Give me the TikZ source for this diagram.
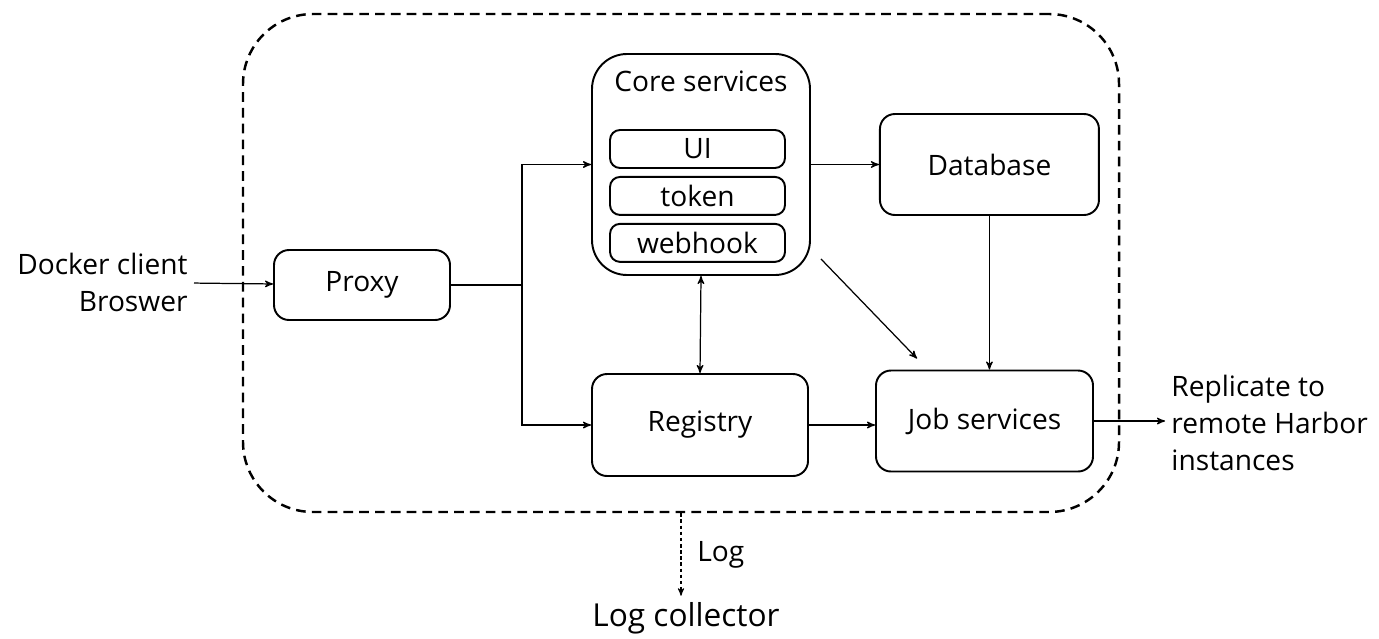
\documentclass[tikz,border=0pt]{standalone}
\usepackage{fontspec}
\setmainfont{Open Sans}
\usepackage{tikz}
\usetikzlibrary{arrows,positioning}

\begin{document}
\begin{tikzpicture}[->,>=stealth',line width=0.7pt,
                    font=\fontsize{16}{21}\selectfont]
  \tikzstyle{block}=[draw,line width=1.1pt,rounded corners=0.3cm,align=center]
  \tikzstyle{item}=[block,rounded corners=0.2cm,minimum width=3.5cm,minimum height=0.76cm,inner sep=0pt]
  \tikzstyle{group}=[draw,line width=1.4pt,dash pattern=on 5.5pt off 3.5pt,rounded corners=1.4cm]

  \useasboundingbox (0,0) rectangle (27.58,-12.76);

  % outer boundary
  \node[group,minimum width=17.52cm,minimum height=9.96cm] (harbor) at (13.62,-5.26) {};

  \node[block,minimum width=3.52cm,minimum height=1.4cm] (proxy) at (7.24,-5.70) {Proxy};
  \node[block,rounded corners=0.7cm,minimum width=4.36cm,minimum height=4.42cm] (core) at (14.02,-3.29) {};
  \node (coretitle) at (14.02,-1.62) {Core services};
  \node[item] (ui)      at (13.95,-2.98) {UI};
  \node[item] (token)   [below=0.14cm of ui] {token};
  \node[item] (webhook) [below=0.14cm of token] {webhook};

  \node[block,minimum width=4.38cm,minimum height=2.02cm] (db) [right=1.36cm of core.east |- core] {Database};
  \node[block,minimum width=4.32cm,minimum height=2.04cm] (registry) at (14.0,-8.5) {Registry};
  \node[block,minimum width=4.34cm,minimum height=2.02cm] (job) at (19.69,-8.42) {Job services};

  \node[align=right,anchor=east] (client) at (3.88,-5.64) {Docker client\\Broswer};
  \node[align=left,anchor=west] (replicate) at (23.3,-8.46) {Replicate to\\remote Harbor\\instances};
  \node[font=\fontsize{18}{22}\selectfont] (collector) at (13.72,-12.36) {Log collector};

  \coordinate (split) at (10.44,-5.70);

  \draw[-] (proxy.east) -- (split);
  \draw (split) |- (core.west);
  \draw (split) |- (registry.west);
  \draw (client) -- (proxy);
  \draw (core.east |- db) -- (db.west);
  \draw[<->] (core.south) -- (registry.north);
  \draw ([xshift=0.2cm,yshift=0.34cm]core.south east) -- ([xshift=0.84cm,yshift=0.22cm]job.north west);
  \draw (db.south) -- (db.south |- job.north);
  \draw (registry.east) -- (registry.east -| job.west);
  \draw (job.east) -- (replicate.west |- job.east);
  \draw[line width=0.6pt,dash pattern=on 2pt off 1.5pt] (harbor.south) -- node[right,xshift=0.2cm] {Log} (harbor.south |- collector.north);
\end{tikzpicture}
\end{document}
